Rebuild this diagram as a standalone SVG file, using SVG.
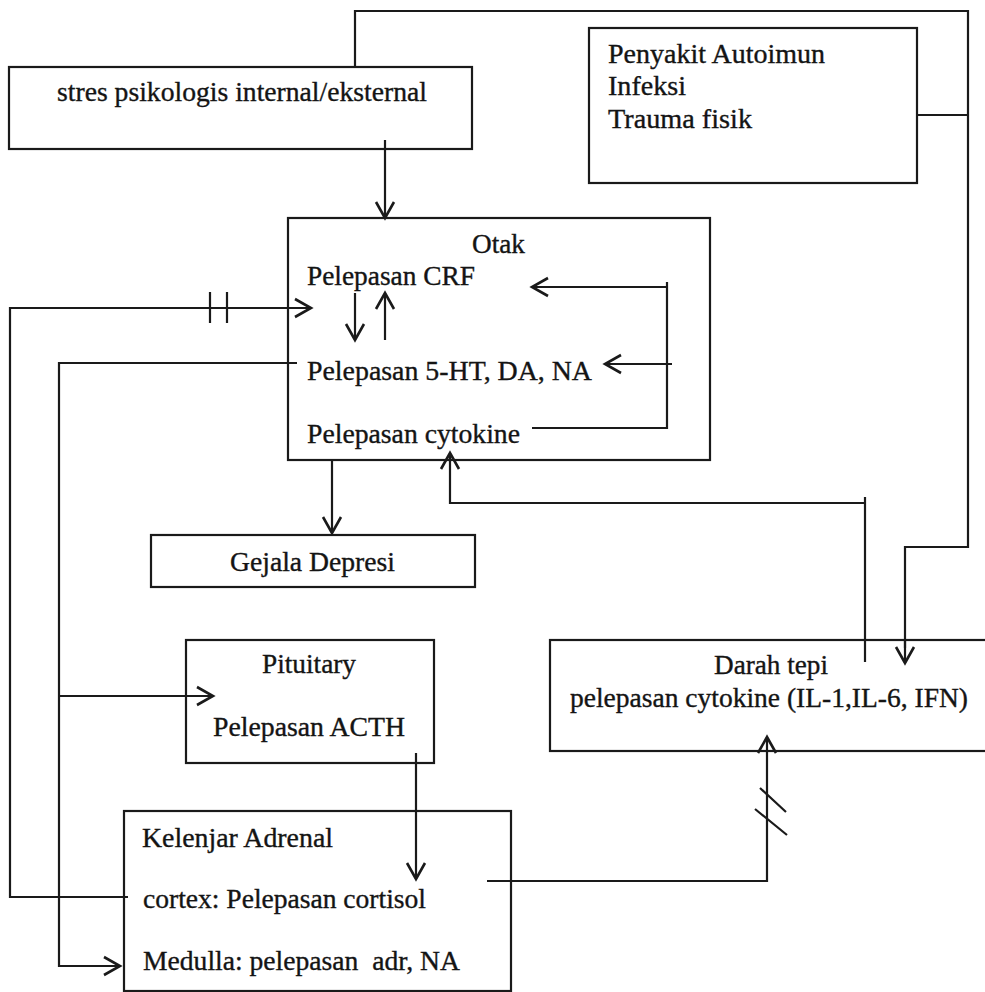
<svg xmlns="http://www.w3.org/2000/svg" width="985" height="992" viewBox="0 0 985 992">
<defs>
<style>
.box{fill:none;stroke:#1a1a1a;stroke-width:2.2}
.t{font-size:27px;fill:#141414;stroke:#141414;stroke-width:0.35}
.c{fill:none;stroke:#1a1a1a;stroke-width:2.2}
.a{fill:none;stroke:#1a1a1a;stroke-width:2.2;marker-end:url(#arr)}
</style>
<marker id="arr" markerUnits="userSpaceOnUse" markerWidth="24" markerHeight="24" viewBox="-20 -12 24 24" refX="0" refY="0" orient="auto" overflow="visible">
<path d="M-16,-9 L0,0 L-16,9" fill="none" stroke="#1a1a1a" stroke-width="2.6"/>
</marker>
</defs>
<rect width="985" height="992" fill="#ffffff"/>

<g id="connectors">
<path class="c" d="M355,67 V11 H968 V547 H905 V648"/>
<path class="a" d="M905,640 V663"/>
<path class="c" d="M917,115 H968"/>
<path class="a" d="M385,140 V218"/>
<path class="a" d="M128,897 H10 V308 H311"/>
<path class="c" d="M210,292 V323 M227,292 V323"/>
<path class="a" d="M297,363 H59 V966 H120"/>
<path class="a" d="M59,696 H213"/>
<path class="a" d="M355,293 V340"/>
<path class="a" d="M385,340 V293"/>
<path class="c" d="M532,428 H667 V282"/>
<path class="a" d="M667,287 H532"/>
<path class="a" d="M672,364 H605"/>
<path class="a" d="M332,460 V533"/>
<path class="c" d="M865,662 V497"/>
<path class="a" d="M865,503 H450 V453"/>
<path class="a" d="M416,753 V879"/>
<path class="a" d="M487,881 H767 V737"/>
<path class="c" d="M760,788 L786,812 M755,809 L787,835"/>
</g>

<g font-family="'Liberation Serif', 'Times New Roman', 'DejaVu Serif', serif">
<g id="stres">
<rect class="box" x="9" y="67" width="463" height="82"/>
<text class="t" x="57" y="101" textLength="370" lengthAdjust="spacingAndGlyphs">stres psikologis internal/eksternal</text>
</g>

<g id="penyakit">
<rect class="box" x="589" y="28" width="328" height="155"/>
<text class="t" x="608" y="63" textLength="217" lengthAdjust="spacingAndGlyphs">Penyakit Autoimun</text>
<text class="t" x="608" y="95" textLength="78" lengthAdjust="spacingAndGlyphs">Infeksi</text>
<text class="t" x="608" y="128" textLength="144" lengthAdjust="spacingAndGlyphs">Trauma fisik</text>
</g>

<g id="otak">
<rect class="box" x="288" y="218" width="422" height="242"/>
<text class="t" x="472" y="253" textLength="53" lengthAdjust="spacingAndGlyphs">Otak</text>
<text class="t" x="307" y="285" textLength="168" lengthAdjust="spacingAndGlyphs">Pelepasan CRF</text>
<text class="t" x="307" y="380" textLength="285" lengthAdjust="spacingAndGlyphs">Pelepasan 5-HT, DA, NA</text>
<text class="t" x="307" y="443" textLength="213" lengthAdjust="spacingAndGlyphs">Pelepasan cytokine</text>
</g>

<g id="gejala">
<rect class="box" x="151" y="535" width="324" height="52"/>
<text class="t" x="230" y="571" textLength="165" lengthAdjust="spacingAndGlyphs">Gejala Depresi</text>
</g>

<g id="pituitary">
<rect class="box" x="186" y="640" width="248" height="123"/>
<text class="t" x="262" y="673" textLength="94" lengthAdjust="spacingAndGlyphs">Pituitary</text>
<text class="t" x="213" y="736" textLength="192" lengthAdjust="spacingAndGlyphs">Pelepasan ACTH</text>
</g>

<g id="adrenal">
<rect class="box" x="124" y="811" width="387" height="180"/>
<text class="t" x="142" y="847" textLength="191" lengthAdjust="spacingAndGlyphs">Kelenjar Adrenal</text>
<text class="t" x="143" y="908" textLength="283" lengthAdjust="spacingAndGlyphs">cortex: Pelepasan cortisol</text>
<text class="t" x="143" y="970" textLength="317" lengthAdjust="spacingAndGlyphs" xml:space="preserve">Medulla: pelepasan  adr, NA</text>
</g>

<g id="darah">
<rect class="box" x="550" y="640" width="450" height="111"/>
<text class="t" x="714" y="674" textLength="114" lengthAdjust="spacingAndGlyphs">Darah tepi</text>
<text class="t" x="570" y="707" textLength="398" lengthAdjust="spacingAndGlyphs">pelepasan cytokine (IL-1,IL-6, IFN)</text>
</g>
</g>
</svg>
